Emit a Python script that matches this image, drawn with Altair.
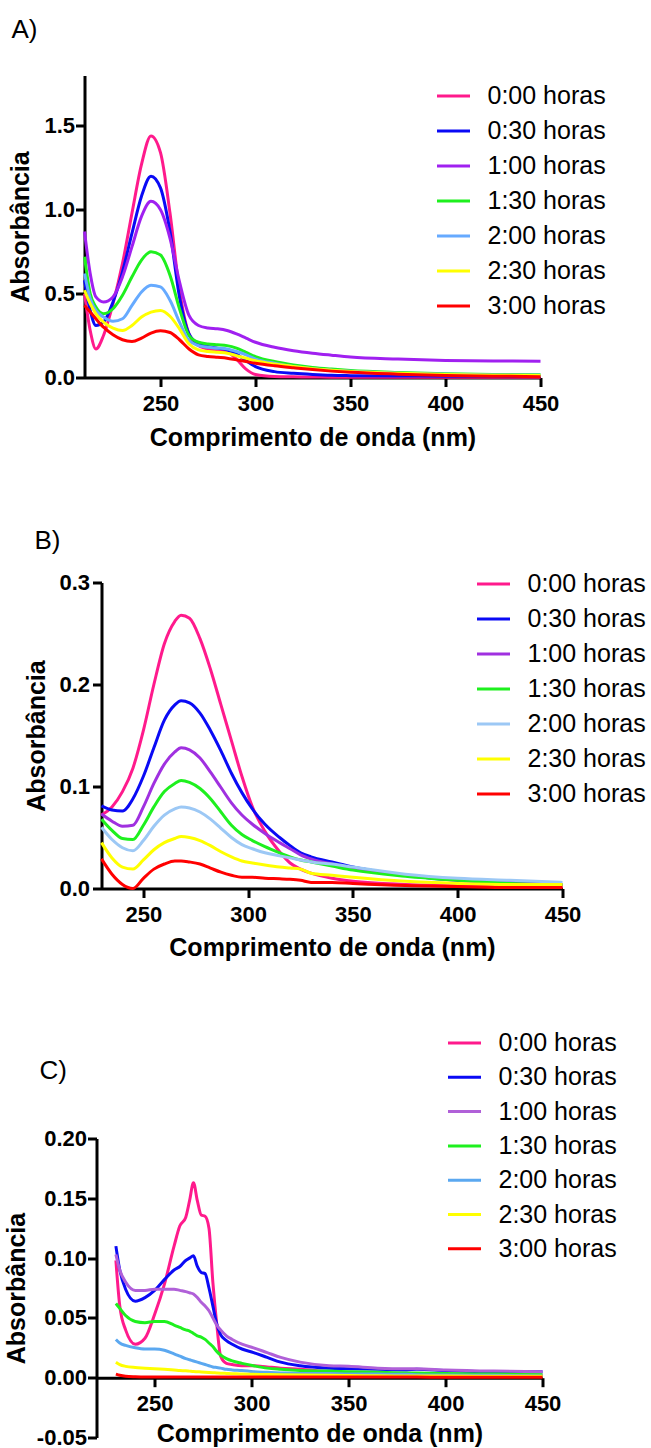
import altair as alt
import pandas as pd

FONT = "Liberation Sans"
SERIES = ["0:00 horas", "0:30 horas", "1:00 horas", "1:30 horas",
          "2:00 horas", "2:30 horas", "3:00 horas"]
X_TICKS = [250, 300, 350, 400, 450]

# ---------------- Panel A ----------------
wl_a = [210, 213, 216, 220, 225, 230, 235, 240, 245, 250, 255, 260, 265, 270, 275,
        280, 285, 290, 295, 300, 310, 320, 330, 340, 350, 375, 400, 425, 450]
a_000 = [0.50, 0.28, 0.17, 0.25, 0.44, 0.68, 0.98, 1.27, 1.44, 1.34, 0.98, 0.52, 0.26, 0.19, 0.17,
         0.165, 0.155, 0.11, 0.05, 0.018, 0.006, 0.004, 0.003, 0.002, 0.002, 0.001, 0.001, 0.001, 0.001]
a_030 = [0.58, 0.40, 0.31, 0.33, 0.45, 0.63, 0.86, 1.08, 1.20, 1.13, 0.87, 0.48, 0.26, 0.20, 0.185,
         0.175, 0.165, 0.14, 0.10, 0.065, 0.035, 0.025, 0.018, 0.013, 0.011, 0.009, 0.008, 0.007, 0.006]
a_100 = [0.87, 0.62, 0.48, 0.45, 0.48, 0.60, 0.78, 0.96, 1.05, 1.00, 0.83, 0.57, 0.37, 0.31, 0.295,
         0.29, 0.28, 0.26, 0.235, 0.21, 0.18, 0.16, 0.145, 0.133, 0.122, 0.11, 0.102, 0.099, 0.097]
a_130 = [0.72, 0.50, 0.42, 0.38, 0.41, 0.49, 0.60, 0.70, 0.75, 0.73, 0.61, 0.41, 0.25, 0.21, 0.20,
         0.195, 0.19, 0.175, 0.15, 0.125, 0.095, 0.075, 0.06, 0.05, 0.042, 0.03, 0.022, 0.018, 0.016]
a_200 = [0.62, 0.47, 0.40, 0.36, 0.335, 0.35, 0.43, 0.51, 0.55, 0.54, 0.46, 0.33, 0.22, 0.19, 0.18,
         0.175, 0.17, 0.155, 0.135, 0.11, 0.085, 0.065, 0.052, 0.044, 0.037, 0.026, 0.019, 0.015, 0.013]
a_230 = [0.52, 0.44, 0.38, 0.33, 0.295, 0.28, 0.31, 0.36, 0.39, 0.40, 0.365, 0.29, 0.20, 0.165, 0.155,
         0.15, 0.145, 0.13, 0.115, 0.10, 0.08, 0.065, 0.052, 0.043, 0.036, 0.025, 0.018, 0.014, 0.012]
a_300 = [0.43, 0.39, 0.35, 0.30, 0.255, 0.225, 0.215, 0.235, 0.265, 0.278, 0.268, 0.225, 0.17, 0.135, 0.125,
         0.12, 0.115, 0.105, 0.095, 0.085, 0.07, 0.058, 0.047, 0.038, 0.031, 0.02, 0.012, 0.008, 0.005]
colors_a = ["#FF1A8C", "#0A0AF5", "#A020F0", "#1EF01E", "#66AAFF", "#FFFF00", "#FF0000"]

# ---------------- Panel B ----------------
wl_b = [230, 235, 240, 245, 250, 255, 260, 265, 268, 272, 277, 282, 287, 292, 297,
        302, 308, 315, 320, 325, 330, 340, 350, 375, 400, 425, 450]
b_000 = [0.072, 0.080, 0.095, 0.118, 0.155, 0.200, 0.240, 0.262, 0.268, 0.265, 0.245, 0.215, 0.180, 0.145, 0.110,
         0.080, 0.056, 0.036, 0.025, 0.019, 0.015, 0.010, 0.007, 0.004, 0.003, 0.002, 0.002]
b_030 = [0.081, 0.077, 0.076, 0.088, 0.110, 0.138, 0.165, 0.180, 0.184, 0.182, 0.172, 0.155, 0.135, 0.113, 0.094,
         0.078, 0.063, 0.050, 0.042, 0.035, 0.031, 0.026, 0.021, 0.013, 0.008, 0.006, 0.004]
b_100 = [0.073, 0.066, 0.061, 0.062, 0.080, 0.103, 0.122, 0.134, 0.138, 0.136, 0.128, 0.114, 0.099, 0.084, 0.072,
         0.063, 0.054, 0.045, 0.039, 0.033, 0.029, 0.024, 0.020, 0.013, 0.008, 0.006, 0.004]
b_130 = [0.068, 0.057, 0.049, 0.048, 0.062, 0.080, 0.095, 0.103, 0.106, 0.104, 0.098, 0.088, 0.075, 0.062, 0.053,
         0.047, 0.041, 0.035, 0.031, 0.028, 0.026, 0.022, 0.018, 0.012, 0.008, 0.005, 0.004]
b_200 = [0.060, 0.048, 0.040, 0.037, 0.047, 0.061, 0.072, 0.078, 0.080, 0.079, 0.075, 0.068, 0.059, 0.050, 0.043,
         0.039, 0.035, 0.032, 0.030, 0.028, 0.026, 0.024, 0.021, 0.014, 0.010, 0.008, 0.006]
b_230 = [0.045, 0.030, 0.021, 0.019, 0.028, 0.038, 0.045, 0.049, 0.051, 0.050, 0.047, 0.042, 0.036, 0.031, 0.027,
         0.025, 0.023, 0.021, 0.020, 0.019, 0.015, 0.013, 0.011, 0.007, 0.005, 0.004, 0.004]
b_300 = [0.029, 0.014, 0.004, 0.000, 0.010, 0.019, 0.024, 0.027, 0.027, 0.026, 0.024, 0.020, 0.016, 0.013, 0.011,
         0.011, 0.010, 0.0095, 0.009, 0.008, 0.006, 0.006, 0.005, 0.003, 0.002, 0.001, 0.001]
colors_b = ["#FF1A8C", "#0A0AF5", "#A030E0", "#1EF01E", "#9CC8F5", "#FFFF00", "#FF0000"]

# ---------------- Panel C ----------------
wl_c = [230, 232, 235, 240, 245, 250, 255, 260, 263, 266, 268, 270, 272, 274, 276, 278, 280,
        282, 284, 287, 290, 295, 301, 308, 315, 325, 340, 350, 365, 380, 385, 400, 425, 450]
c_000 = [0.098, 0.060, 0.040, 0.028, 0.033, 0.053, 0.078, 0.110, 0.127, 0.134, 0.148, 0.163, 0.148, 0.136, 0.135,
         0.125, 0.080, 0.045, 0.018, 0.012, 0.011, 0.010, 0.010, 0.009, 0.008, 0.007, 0.005, 0.004, 0.003, 0.003,
         0.003, 0.002, 0.002, 0.002]
c_030 = [0.110, 0.090, 0.074, 0.064, 0.067, 0.073, 0.082, 0.090, 0.093, 0.098, 0.100, 0.102, 0.093, 0.088, 0.087,
         0.075, 0.060, 0.045, 0.036, 0.031, 0.028, 0.024, 0.021, 0.017, 0.013, 0.010, 0.008, 0.0075, 0.007, 0.0065,
         0.007, 0.006, 0.005, 0.005]
c_100 = [0.103, 0.090, 0.080, 0.073, 0.073, 0.074, 0.074, 0.074, 0.073, 0.072, 0.071, 0.070, 0.067, 0.063, 0.060,
         0.056, 0.050, 0.044, 0.040, 0.035, 0.032, 0.028, 0.025, 0.021, 0.017, 0.013, 0.010, 0.0095, 0.008, 0.0075,
         0.0075, 0.0065, 0.0055, 0.005]
c_130 = [0.062, 0.058, 0.052, 0.047, 0.046, 0.047, 0.047, 0.044, 0.042, 0.040, 0.039, 0.037, 0.035, 0.034, 0.032,
         0.029, 0.026, 0.022, 0.019, 0.016, 0.014, 0.012, 0.010, 0.008, 0.007, 0.006, 0.0055, 0.005, 0.0045, 0.004,
         0.004, 0.0035, 0.003, 0.0025]
c_200 = [0.032, 0.029, 0.027, 0.025, 0.024, 0.024, 0.023, 0.020, 0.018, 0.016, 0.015, 0.014, 0.013, 0.012, 0.011,
         0.010, 0.009, 0.0085, 0.008, 0.007, 0.0065, 0.006, 0.005, 0.0045, 0.004, 0.0035, 0.0035, 0.003, 0.003, 0.0028,
         0.0025, 0.0022, 0.002, 0.0015]
c_230 = [0.013, 0.011, 0.0095, 0.0085, 0.008, 0.0075, 0.007, 0.0065, 0.006, 0.0058, 0.0055, 0.0052, 0.005, 0.0048, 0.0046,
         0.0044, 0.0042, 0.004, 0.0038, 0.0036, 0.0034, 0.003, 0.0028, 0.0026, 0.0024, 0.0022, 0.002, 0.0018, 0.0016, 0.0015,
         0.0015, 0.0014, 0.0012, 0.0012]
c_300 = [0.003, 0.002, 0.0012, 0.0008, 0.0006, 0.0006, 0.0006, 0.0005, 0.0005, 0.0005, 0.0005, 0.0005, 0.0005, 0.0005, 0.0005,
         0.0005, 0.0005, 0.0005, 0.0005, 0.0005, 0.0005, 0.0005, 0.0005, 0.0005, 0.0005, 0.0005, 0.0005, 0.0005, 0.0005, 0.0005,
         0.0005, 0.0004, 0.0004, 0.0004]
colors_c = ["#FF1A8C", "#0A0AF5", "#B060D8", "#1EF01E", "#5BA8F0", "#FFFF00", "#FF0000"]


def long_table(wl, curves):
    rows = []
    for name, vals in zip(SERIES, curves):
        for x, v in zip(wl, vals):
            rows.append({"nm": x, "abs": v, "serie": name})
    return pd.DataFrame(rows)


def panel(df, colors, letter, title_dx, title_offset,
          x_dom, x_rng, width, x_offset, x_title_y,
          y_dom, y_rng, height, y_vals, y_label_expr, y_offset, y_title_x, y_label_pad,
          leg_x, leg_y, row_pad):
    return alt.Chart(
        df,
        title=alt.TitleParams(letter, anchor="start", frame="group", orient="top",
                              font=FONT, fontSize=26, fontWeight="normal", color="black",
                              baseline="alphabetic", dx=title_dx, offset=title_offset),
    ).mark_line(strokeWidth=3, interpolate="monotone").encode(
        x=alt.X("nm:Q",
                scale=alt.Scale(domain=x_dom, range=x_rng, nice=False, zero=False),
                axis=alt.Axis(values=X_TICKS, title="Comprimento de onda (nm)",
                              offset=x_offset, titleY=x_title_y, titleBaseline="middle",
                              labelPadding=7)),
        y=alt.Y("abs:Q",
                scale=alt.Scale(domain=y_dom, range=y_rng, nice=False, zero=False),
                axis=alt.Axis(values=y_vals, labelExpr=y_label_expr, title="Absorbância",
                              offset=y_offset, titleX=y_title_x, titleBaseline="middle",
                              titleAngle=270, labelPadding=y_label_pad)),
        color=alt.Color("serie:N",
                        scale=alt.Scale(domain=SERIES, range=colors),
                        legend=alt.Legend(title=None, orient="none", legendX=leg_x, legendY=leg_y,
                                          direction="vertical", padding=0,
                                          symbolType="M-2.0625,0H2.0625", symbolSize=256,
                                          symbolStrokeWidth=3, labelFont=FONT, labelFontSize=25,
                                          labelColor="black", labelOffset=21.5, rowPadding=row_pad)),
    ).properties(width=width, height=height)


fmt1 = "replace(format(datum.value, '.1f'), '\u2212', '-')"
fmt2 = "replace(format(datum.value, '.2f'), '\u2212', '-')"

chart_a = panel(long_table(wl_a, [a_000, a_030, a_100, a_130, a_200, a_230, a_300]), colors_a,
                "A)", -73, 11.5,
                [210, 450], [0, 456], 456, 0, 60,
                [0, 1.8], [302, 0], 302, [0, 0.5, 1.0, 1.5], fmt1, 0, -64, 1,
                356.5, 8, 9)

chart_b = panel(long_table(wl_b, [b_000, b_030, b_100, b_130, b_200, b_230, b_300]), colors_b,
                "B)", -50, -3.3,
                [230, 450], [17, 478], 478, 0, 59,
                [0, 0.3], [306, 0], 306, [0, 0.1, 0.2, 0.3], fmt1, -17, -65, 3,
                396.5, -11, 9)

chart_c = panel(long_table(wl_c, [c_000, c_030, c_100, c_130, c_200, c_230, c_300]), colors_c,
                "C)", -45, -74,
                [220, 450], [12, 458], 458, -59.8, 56,
                [-0.05, 0.2], [344, 45], 344, [-0.05, 0, 0.05, 0.10, 0.15, 0.20], fmt2, -12, -80, 1,
                367.5, -63, 8.3)

chart = alt.vconcat(
    chart_a, chart_b, chart_c, spacing=205, bounds="flush"
).resolve_scale(
    color="independent"
).resolve_legend(
    color="independent"
).configure_view(
    stroke=None
).configure_axis(
    domainColor="black", domainWidth=3, tickColor="black", tickWidth=3, tickSize=9,
    labelFont=FONT, labelFontSize=22, labelFontWeight="bold", labelColor="black",
    titleFont=FONT, titleFontSize=25, titleFontWeight="bold", titleColor="black",
    grid=False, labelFlush=False, labelOverlap=False, labelBound=False
).properties(
    padding={"left": 4.5, "top": 16.5, "right": 0, "bottom": 0},
    background="white"
)

chart.save("out.html", embed_options={"renderer": "svg", "actions": False})
